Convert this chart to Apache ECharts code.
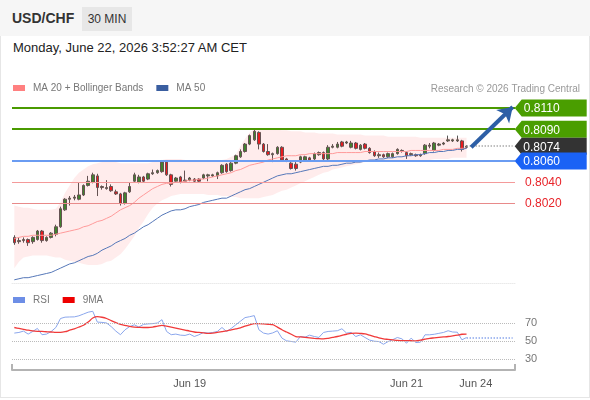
<!DOCTYPE html>
<html>
<head>
<meta charset="utf-8">
<script src="https://cdn.jsdelivr.net/npm/echarts@6/dist/echarts.min.js"></script>
<style>
  body { margin: 0; background: #fff; font-family: 'Liberation Sans', Arial, sans-serif; }
  #frame { position: absolute; left: 0; top: 0; width: 588px; height: 397px;
           border: 1px solid #e6e6e6; border-top: none; }
  #hdr { position: absolute; left: 0; top: 0; width: 590px; height: 36px; background: #f6f6f6; }
  #pair { position: absolute; left: 12px; top: 10px; font-weight: bold; font-size: 14px; color: #333; }
  #tf { position: absolute; left: 82px; top: 7px; width: 50px; height: 24px; line-height: 24px;
        text-align: center; background: #e7e7e7; font-size: 12px; color: #333; }
  #date { position: absolute; left: 13px; top: 40px; font-size: 13px; color: #222; }
  #chart { position: absolute; left: 0; top: 0; width: 590px; height: 400px; }
</style>
</head>
<body>
<div id="frame"></div>
<div id="hdr"><span id="pair">USD/CHF</span><span id="tf">30 MIN</span></div>
<div id="date">Monday, June 22, 2026 3:52:27 AM CET</div>
<div id="chart"></div>
<script>
// price candles (30 min bars)
const opens = [
  0.7988, 0.7984, 0.7985, 0.7986, 0.7984, 0.7986, 0.7994, 0.7985, 0.7988, 0.7991,
  0.7998, 0.8014, 0.8024, 0.8025, 0.8024, 0.8028, 0.8037, 0.8040, 0.8046, 0.8035,
  0.8034, 0.8036, 0.8031, 0.8029, 0.8020, 0.8031, 0.8041, 0.8040, 0.8045, 0.8043,
  0.8048, 0.8049, 0.8050, 0.8059, 0.8047, 0.8041, 0.8045, 0.8041, 0.8042, 0.8043,
  0.8043, 0.8044, 0.8046, 0.8046, 0.8046, 0.8049, 0.8057, 0.8051, 0.8058, 0.8064,
  0.8069, 0.8076, 0.8080, 0.8087, 0.8076, 0.8069, 0.8066, 0.8067, 0.8073, 0.8062,
  0.8058, 0.8057, 0.8059, 0.8061, 0.8063, 0.8062, 0.8066, 0.8068, 0.8062, 0.8073,
  0.8073, 0.8078, 0.8077, 0.8073, 0.8077, 0.8071, 0.8076, 0.8072, 0.8069, 0.8065,
  0.8066, 0.8064, 0.8064, 0.8067, 0.8069, 0.8068, 0.8066, 0.8066, 0.8065, 0.8067,
  0.8074, 0.8070, 0.8075, 0.8076, 0.8079, 0.8079, 0.8079, 0.8079, 0.8073
]
const closes = [
  0.7983, 0.7985, 0.7986, 0.7983, 0.7988, 0.7994, 0.7985, 0.7988, 0.7992, 0.7998,
  0.8015, 0.8024, 0.8025, 0.8026, 0.8028, 0.8037, 0.8041, 0.8047, 0.8035, 0.8036,
  0.8035, 0.8032, 0.8029, 0.8020, 0.8030, 0.8036, 0.8047, 0.8045, 0.8041, 0.8048,
  0.8049, 0.8051, 0.8059, 0.8047, 0.8038, 0.8044, 0.8040, 0.8042, 0.8044, 0.8041,
  0.8041, 0.8047, 0.8047, 0.8047, 0.8049, 0.8056, 0.8050, 0.8058, 0.8065, 0.8069,
  0.8076, 0.8084, 0.8088, 0.8076, 0.8069, 0.8066, 0.8067, 0.8073, 0.8061, 0.8060,
  0.8053, 0.8053, 0.8064, 0.8064, 0.8061, 0.8067, 0.8068, 0.8062, 0.8073, 0.8074,
  0.8076, 0.8074, 0.8078, 0.8077, 0.8072, 0.8075, 0.8072, 0.8068, 0.8065, 0.8066,
  0.8064, 0.8067, 0.8067, 0.8071, 0.8070, 0.8065, 0.8067, 0.8065, 0.8066, 0.8075,
  0.8075, 0.8077, 0.8076, 0.8077, 0.8080, 0.8080, 0.8080, 0.8071, 0.8074
]
const lows = [
  0.7981, 0.7982, 0.7983, 0.7980, 0.7982, 0.7985, 0.7983, 0.7984, 0.7987, 0.7989,
  0.7997, 0.8013, 0.8018, 0.8023, 0.8023, 0.8027, 0.8036, 0.8039, 0.8027, 0.8033,
  0.8033, 0.8031, 0.8028, 0.8018, 0.8019, 0.8030, 0.8040, 0.8039, 0.8040, 0.8042,
  0.8047, 0.8048, 0.8049, 0.8046, 0.8036, 0.8040, 0.8039, 0.8040, 0.8041, 0.8040,
  0.8040, 0.8043, 0.8041, 0.8045, 0.8043, 0.8048, 0.8049, 0.8050, 0.8057, 0.8063,
  0.8068, 0.8075, 0.8079, 0.8071, 0.8068, 0.8065, 0.8059, 0.8066, 0.8060, 0.8059,
  0.8052, 0.8051, 0.8058, 0.8060, 0.8060, 0.8061, 0.8065, 0.8061, 0.8061, 0.8072,
  0.8072, 0.8073, 0.8076, 0.8072, 0.8071, 0.8070, 0.8071, 0.8067, 0.8064, 0.8063,
  0.8063, 0.8063, 0.8063, 0.8066, 0.8068, 0.8062, 0.8065, 0.8064, 0.8064, 0.8066,
  0.8072, 0.8069, 0.8074, 0.8075, 0.8078, 0.8078, 0.8078, 0.8069, 0.8072
]
const highs = [
  0.7990, 0.7988, 0.7988, 0.7987, 0.7989, 0.7995, 0.7995, 0.7989, 0.7993, 0.8000,
  0.8017, 0.8025, 0.8027, 0.8028, 0.8040, 0.8038, 0.8046, 0.8049, 0.8048, 0.8037,
  0.8042, 0.8038, 0.8033, 0.8030, 0.8031, 0.8040, 0.8049, 0.8047, 0.8046, 0.8049,
  0.8052, 0.8052, 0.8061, 0.8060, 0.8048, 0.8045, 0.8046, 0.8051, 0.8045, 0.8044,
  0.8044, 0.8048, 0.8048, 0.8048, 0.8050, 0.8057, 0.8058, 0.8059, 0.8066, 0.8071,
  0.8077, 0.8085, 0.8090, 0.8088, 0.8077, 0.8076, 0.8068, 0.8074, 0.8074, 0.8063,
  0.8059, 0.8059, 0.8065, 0.8065, 0.8064, 0.8068, 0.8069, 0.8069, 0.8075, 0.8076,
  0.8078, 0.8079, 0.8079, 0.8079, 0.8078, 0.8076, 0.8077, 0.8073, 0.8070, 0.8068,
  0.8067, 0.8068, 0.8068, 0.8072, 0.8071, 0.8069, 0.8068, 0.8067, 0.8067, 0.8076,
  0.8077, 0.8078, 0.8077, 0.8078, 0.8084, 0.8081, 0.8084, 0.8080, 0.8075
]

// bollinger bands and moving averages
const bbUpper = [
  0.8018, 0.8017, 0.8016, 0.8016, 0.8015, 0.8014, 0.8014, 0.8014, 0.8014, 0.8015,
  0.8021, 0.8030, 0.8037, 0.8044, 0.8049, 0.8052, 0.8055, 0.8057, 0.8058, 0.8059,
  0.8059, 0.8059, 0.8059, 0.8058, 0.8058, 0.8058, 0.8058, 0.8058, 0.8058, 0.8058,
  0.8059, 0.8059, 0.8061, 0.8062, 0.8062, 0.8062, 0.8062, 0.8061, 0.8061, 0.8060,
  0.8060, 0.8060, 0.8060, 0.8060, 0.8060, 0.8061, 0.8062, 0.8064, 0.8066, 0.8074,
  0.8081, 0.8087, 0.8090, 0.8091, 0.8091, 0.8091, 0.8091, 0.8090, 0.8089, 0.8089,
  0.8088, 0.8088, 0.8088, 0.8087, 0.8087, 0.8087, 0.8086, 0.8086, 0.8086, 0.8086,
  0.8085, 0.8085, 0.8085, 0.8085, 0.8085, 0.8085, 0.8084, 0.8084, 0.8084, 0.8084,
  0.8084, 0.8083, 0.8083, 0.8083, 0.8083, 0.8083, 0.8083, 0.8083, 0.8082, 0.8082,
  0.8082, 0.8082, 0.8082, 0.8082, 0.8082, 0.8082, 0.8082, 0.8082, 0.8082
]
const bbLower = [
  0.7959, 0.7965, 0.7969, 0.7970, 0.7971, 0.7971, 0.7971, 0.7971, 0.7970, 0.7969,
  0.7969, 0.7967, 0.7966, 0.7965, 0.7964, 0.7963, 0.7962, 0.7962, 0.7962, 0.7963,
  0.7965, 0.7966, 0.7969, 0.7972, 0.7977, 0.7983, 0.7989, 0.7997, 0.8003, 0.8010,
  0.8016, 0.8020, 0.8023, 0.8025, 0.8027, 0.8028, 0.8029, 0.8029, 0.8029, 0.8029,
  0.8029, 0.8029, 0.8028, 0.8028, 0.8028, 0.8027, 0.8027, 0.8026, 0.8026, 0.8025,
  0.8025, 0.8025, 0.8025, 0.8025, 0.8026, 0.8027, 0.8028, 0.8030, 0.8032, 0.8033,
  0.8035, 0.8037, 0.8039, 0.8041, 0.8043, 0.8045, 0.8047, 0.8049, 0.8050, 0.8052,
  0.8053, 0.8054, 0.8055, 0.8056, 0.8057, 0.8058, 0.8059, 0.8059, 0.8060, 0.8060,
  0.8061, 0.8061, 0.8061, 0.8061, 0.8061, 0.8061, 0.8061, 0.8061, 0.8061, 0.8061,
  0.8061, 0.8062, 0.8062, 0.8062, 0.8062, 0.8063, 0.8063, 0.8063, 0.8063
]
const ma20 = [
  0.7987, 0.7988, 0.7989, 0.7989, 0.7990, 0.7990, 0.7990, 0.7990, 0.7990, 0.7991,
  0.7992, 0.7993, 0.7994, 0.7995, 0.7996, 0.7998, 0.7999, 0.8001, 0.8003, 0.8004,
  0.8006, 0.8008, 0.8011, 0.8014, 0.8016, 0.8018, 0.8021, 0.8025, 0.8028, 0.8031,
  0.8034, 0.8036, 0.8038, 0.8039, 0.8039, 0.8040, 0.8040, 0.8041, 0.8042, 0.8042,
  0.8043, 0.8043, 0.8044, 0.8045, 0.8046, 0.8047, 0.8048, 0.8049, 0.8051, 0.8052,
  0.8054, 0.8056, 0.8057, 0.8058, 0.8059, 0.8061, 0.8062, 0.8063, 0.8064, 0.8065,
  0.8065, 0.8065, 0.8066, 0.8066, 0.8067, 0.8067, 0.8067, 0.8067, 0.8067, 0.8067,
  0.8068, 0.8068, 0.8068, 0.8068, 0.8068, 0.8068, 0.8069, 0.8069, 0.8069, 0.8069,
  0.8069, 0.8069, 0.8069, 0.8069, 0.8069, 0.8069, 0.8070, 0.8070, 0.8070, 0.8070,
  0.8070, 0.8070, 0.8070, 0.8071, 0.8071, 0.8071, 0.8072, 0.8072, 0.8072
]
const ma50 = [
  0.7948, 0.7949, 0.7950, 0.7950, 0.7951, 0.7952, 0.7953, 0.7954, 0.7955, 0.7957,
  0.7959, 0.7961, 0.7963, 0.7964, 0.7966, 0.7968, 0.7970, 0.7971, 0.7973, 0.7976,
  0.7978, 0.7980, 0.7983, 0.7985, 0.7987, 0.7990, 0.7992, 0.7995, 0.7998, 0.8000,
  0.8003, 0.8006, 0.8009, 0.8011, 0.8013, 0.8014, 0.8014, 0.8015, 0.8017, 0.8018,
  0.8019, 0.8021, 0.8022, 0.8023, 0.8024, 0.8025, 0.8025, 0.8027, 0.8029, 0.8031,
  0.8033, 0.8034, 0.8036, 0.8038, 0.8040, 0.8042, 0.8044, 0.8046, 0.8047, 0.8048,
  0.8048, 0.8049, 0.8050, 0.8051, 0.8052, 0.8053, 0.8054, 0.8055, 0.8055, 0.8056,
  0.8056, 0.8057, 0.8058, 0.8058, 0.8059, 0.8059, 0.8060, 0.8061, 0.8061, 0.8062,
  0.8062, 0.8063, 0.8063, 0.8064, 0.8064, 0.8065, 0.8065, 0.8066, 0.8066, 0.8067,
  0.8068, 0.8068, 0.8069, 0.8069, 0.8070, 0.8070, 0.8071, 0.8071, 0.8072
]

// RSI panel
const rsi = [
  58.8, 59.5, 61.0, 57.7, 60.6, 64.0, 57.0, 57.7, 60.6, 65.0,
  75.0, 76.5, 76.7, 76.8, 78.0, 80.0, 82.0, 83.0, 71.0, 70.7,
  70.0, 66.0, 61.0, 57.0, 62.5, 66.0, 68.0, 65.5, 68.5, 69.0,
  69.3, 70.0, 73.7, 60.6, 57.0, 57.7, 56.5, 56.2, 57.7, 55.0,
  56.9, 59.5, 58.8, 59.5, 60.6, 65.0, 60.6, 64.0, 68.0, 72.0,
  76.0, 77.0, 78.2, 62.5, 58.8, 57.7, 59.0, 61.4, 53.2, 50.2,
  49.5, 48.7, 55.0, 54.3, 56.5, 55.0, 54.0, 59.5, 60.6, 61.0,
  61.4, 63.6, 58.8, 59.5, 55.0, 56.9, 53.9, 51.0, 49.8, 49.4,
  46.4, 49.4, 51.5, 53.9, 52.4, 47.6, 53.2, 48.3, 48.7, 56.9,
  56.9, 57.5, 58.5, 59.5, 61.4, 60.0, 59.8, 51.3, 53.9
]
const rsiMa = [
  65.0, 64.0, 63.0, 62.0, 61.2, 60.8, 60.6, 60.3, 60.0, 59.6,
  59.5, 60.3, 62.0, 63.6, 65.5, 67.5, 71.0, 75.5, 77.0, 76.4,
  75.0, 72.6, 70.5, 68.5, 67.4, 66.3, 65.5, 65.2, 65.0, 65.0,
  65.5, 66.5, 67.4, 66.5, 65.5, 64.4, 63.3, 62.2, 61.0, 60.0,
  59.5, 59.0, 58.5, 58.8, 59.5, 60.4, 61.3, 62.4, 63.5, 64.6,
  66.5, 68.0, 69.3, 69.3, 69.0, 68.6, 68.1, 65.5, 62.5, 60.0,
  57.5, 55.0, 54.5, 54.0, 53.5, 53.0, 52.6, 52.4, 53.0, 54.0,
  55.0, 56.2, 57.5, 58.5, 58.7, 58.4, 57.9, 56.5, 55.0, 53.5,
  52.4, 51.8, 51.2, 50.6, 50.5, 50.4, 50.3, 50.2, 51.0, 52.0,
  53.0, 53.5, 54.0, 54.5, 55.0, 55.7, 56.5, 57.5, 57.7
]
const rsiLevels = [70, 50, 30]

// key levels
const resistances = [0.8110, 0.8090]
const pivot = 0.8060
const supports = [0.8040, 0.8020]
const lastPrice = 0.8074

// x axis
const slotCount = 109
const tickIdx = [38, 85, 100]
const tickText = ['Jun 19', 'Jun 21', 'Jun 24']

const FONT = "'Liberation Sans', Arial, sans-serif"
const last = closes.length - 1
const endSlot = slotCount - 1

const cats = []
for (let i = 0; i < slotCount; i++) {
  const k = tickIdx.indexOf(i)
  cats.push(k >= 0 ? tickText[k] : '')
}
const candles = opens.map((o, i) => [o, closes[i], lows[i], highs[i]])
const bbWidth = bbUpper.map((u, i) => +(u - bbLower[i]).toFixed(4))

const tagPath = 'path://M0,8 L7,0 L72,0 L72,16 L7,16 Z'
const tag = (val, color) => ({
  coord: [endSlot, val],
  value: val.toFixed(4),
  itemStyle: { color: color },
})

const chart = echarts.init(document.getElementById('chart'))

chart.setOption({
  animation: false,
  textStyle: { fontFamily: FONT },
  title: {
    text: 'Research © 2026 Trading Central',
    right: 5, top: 79,
    textStyle: { fontSize: 10, color: '#999', fontWeight: 'normal', fontFamily: FONT }
  },
  legend: [{
    data: ['MA 20 + Bollinger Bands', 'MA 50'],
    left: 8, top: 78,
    icon: 'rect', itemWidth: 12, itemHeight: 6, itemGap: 13,
    textStyle: { fontSize: 10, color: '#777', padding: [0, 0, 0, 3] },
    selectedMode: false
  }, {
    data: ['RSI', '9MA'],
    left: 8, top: 290,
    icon: 'rect', itemWidth: 12, itemHeight: 6, itemGap: 13,
    textStyle: { fontSize: 10, color: '#777', padding: [0, 0, 0, 3] },
    selectedMode: false
  }],
  grid: [
    { left: 12, right: 75, top: 90, height: 193 },
    { left: 12, right: 75, top: 305, height: 65 }
  ],
  xAxis: [{
    type: 'category', gridIndex: 0, data: cats,
    axisLine: { lineStyle: { color: '#eaeaea', type: 'dotted' } },
    axisTick: { show: false }, axisLabel: { show: false }
  }, {
    type: 'category', gridIndex: 1, data: cats, position: 'bottom',
    axisLine: { show: false }, axisTick: { show: false },
    axisLabel: { interval: 0, color: '#555', fontSize: 11, margin: 8 }
  }, {
    type: 'value', gridIndex: 1, position: 'bottom', min: 0, max: 1, interval: 1,
    axisLine: { lineStyle: { color: '#b3b3b3', width: 2 } },
    axisTick: { show: true, inside: true, length: 6, lineStyle: { color: '#b3b3b3', width: 2 } },
    axisLabel: { show: false }, splitLine: { show: false }
  }],
  yAxis: [
    { type: 'value', gridIndex: 0, min: 0.7945, max: 0.8127, show: false },
    { type: 'value', gridIndex: 1, min: 17.8, max: 90, show: false }
  ],
  series: [{
    name: 'bbBase', type: 'line', stack: 'bb', data: bbLower,
    symbol: 'none', silent: true, lineStyle: { opacity: 0 }
  }, {
    name: 'bbBand', type: 'line', stack: 'bb', data: bbWidth,
    symbol: 'none', silent: true, lineStyle: { opacity: 0 },
    areaStyle: { color: 'rgba(255,60,60,0.14)' }
  }, {
    name: 'MA 20 + Bollinger Bands', type: 'line', data: ma20,
    symbol: 'none', color: '#ff8080', lineStyle: { width: 1, color: '#ff9a9a' }
  }, {
    name: 'MA 50', type: 'line', data: ma50,
    symbol: 'none', color: '#3a5ea0', lineStyle: { width: 1, color: '#5577b8' }
  }, {
    name: 'USD/CHF', type: 'candlestick', data: candles, barWidth: 3, clip: false,
    itemStyle: {
      color: '#2c8a2c', color0: '#e8161b',
      borderColor: '#555', borderColor0: '#555', borderWidth: 1
    },
    markLine: {
      silent: true, symbol: 'none', animation: false, precision: 4,
      data: [
        { yAxis: resistances[0], lineStyle: { color: '#4a9a00', width: 2, type: 'solid' }, label: { show: false } },
        { yAxis: resistances[1], lineStyle: { color: '#4a9a00', width: 2, type: 'solid' }, label: { show: false } },
        { yAxis: pivot, lineStyle: { color: '#6a9cf2', width: 2, type: 'solid' }, label: { show: false } },
        { yAxis: supports[0], lineStyle: { color: '#f49a9a', width: 1, type: 'solid' },
          label: { show: true, position: 'end', distance: 10, color: '#e8242a', fontSize: 12, formatter: supports[0].toFixed(4) } },
        { yAxis: supports[1], lineStyle: { color: '#e88a8a', width: 1, type: 'solid' },
          label: { show: true, position: 'end', distance: 10, color: '#e8242a', fontSize: 12, formatter: supports[1].toFixed(4) } },
        [{ coord: [last, lastPrice], lineStyle: { color: '#aaa', width: 1.5, type: 'dotted' }, label: { show: false } },
         { coord: [endSlot, lastPrice] }],
        [{ coord: [last + 1, lastPrice - 0.0001], lineStyle: { color: '#2d5fa6', width: 4, type: 'solid' }, label: { show: false } },
         { coord: [endSlot, resistances[0] + 0.0001], symbol: 'arrow', symbolSize: 14 }]
      ]
    },
    markPoint: {
      silent: true, symbol: tagPath, symbolSize: [72, 17], symbolOffset: [38, 0],
      symbolKeepAspect: false,
      label: { show: true, color: '#fff', fontSize: 12, offset: [-9, 1], formatter: '{c}' },
      data: [
        tag(resistances[0], '#4a9e00'),
        tag(resistances[1], '#4a9e00'),
        tag(lastPrice, '#333333'),
        tag(pivot, '#1a62f5')
      ]
    }
  }, {
    name: 'RSI', type: 'line', xAxisIndex: 1, yAxisIndex: 1, data: rsi,
    symbol: 'none', color: '#6d8ee6', lineStyle: { width: 1, color: '#8aa6ec' },
    markLine: {
      silent: true, symbol: 'none', animation: false,
      lineStyle: { color: '#bbb', type: 'dotted', width: 1 },
      label: { position: 'end', distance: 10, color: '#777', fontSize: 11 },
      data: rsiLevels.map(v => ({ yAxis: v, label: { formatter: String(v) } })).concat([
        [{ coord: [last, rsi[last]], lineStyle: { color: '#8aa6ec', type: 'dotted', width: 1.5 }, label: { show: false } },
         { coord: [endSlot, rsi[last]] }]
      ])
    }
  }, {
    name: '9MA', type: 'line', xAxisIndex: 1, yAxisIndex: 1, data: rsiMa,
    symbol: 'none', color: '#ee0000', lineStyle: { width: 1.3, color: '#f03a3a' }, smooth: 0.3
  }]
})
</script>
</body>
</html>
